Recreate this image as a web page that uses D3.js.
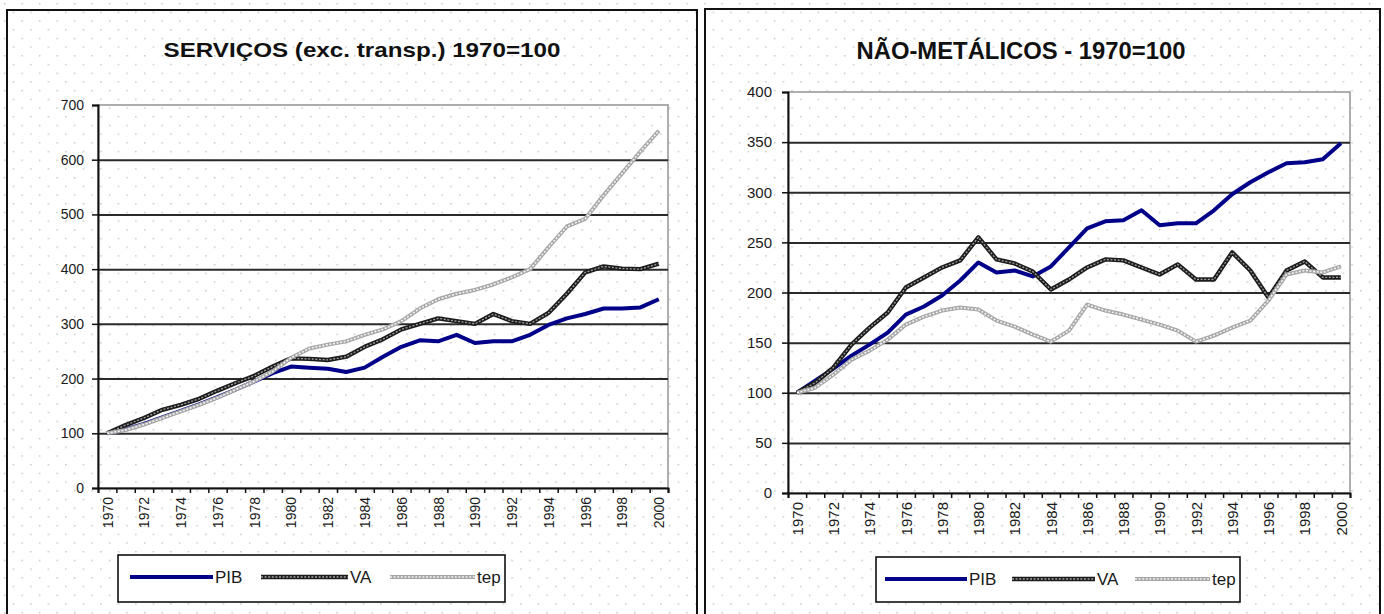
<!DOCTYPE html>
<html>
<head>
<meta charset="utf-8">
<script src="https://cdn.jsdelivr.net/npm/d3@7"></script>
<style>
  body { margin: 0; background: #fff; }
  svg { display: block; font-family: "Liberation Sans", Arial, sans-serif; }
</style>
</head>
<body>
<svg id="chart" width="1384" height="614"></svg>
<script>
// Categories: years of the series
const years = [1970, 1971, 1972, 1973, 1974, 1975, 1976, 1977, 1978, 1979,
               1980, 1981, 1982, 1983, 1984, 1985, 1986, 1987, 1988, 1989,
               1990, 1991, 1992, 1993, 1994, 1995, 1996, 1997, 1998, 1999, 2000];

// Serviços (exc. transportes), índice 1970=100
const servPIB = [100, 107, 117, 129, 141, 153, 166, 180, 195, 210,
                 222, 220, 218, 212, 220, 240, 258, 270, 268, 280,
                 265, 268, 268, 280, 298, 310, 318, 328, 328, 330, 345];
const servVA  = [100, 115, 128, 143, 152, 163, 178, 192, 205, 222,
                 237, 236, 234, 240, 258, 272, 290, 300, 310, 305,
                 300, 318, 305, 300, 320, 355, 394, 405, 401, 400, 410];
const servTep = [100, 106, 116, 128, 140, 152, 165, 180, 195, 213,
                 238, 255, 262, 268, 280, 290, 305, 328, 345, 355,
                 362, 372, 385, 400, 440, 478, 492, 535, 575, 615, 653];

// Não-metálicos, índice 1970=100
const nmPIB = [100, 112, 124, 137, 148, 160, 178, 186, 197, 212,
               230, 220, 222, 216, 226, 245, 264, 271, 272, 282,
               267, 269, 269, 282, 298, 310, 320, 329, 330, 333, 349];
const nmVA  = [100, 110, 125, 148, 165, 180, 205, 215, 225, 232,
               255, 233, 229, 221, 203, 213, 225, 233, 232, 225,
               218, 228, 213, 213, 240, 222, 195, 222, 231, 215, 215];
const nmTep = [100, 105, 118, 133, 142, 153, 168, 176, 182, 185,
               183, 172, 166, 158, 151, 162, 188, 182, 178, 173,
               168, 162, 151, 157, 165, 172, 192, 218, 222, 220, 226];

// Axis tick labels
const xTickYears = [1970, 1972, 1974, 1976, 1978, 1980, 1982, 1984,
                    1986, 1988, 1990, 1992, 1994, 1996, 1998, 2000];
const servYTicks = [0, 100, 200, 300, 400, 500, 600, 700];
const nmYTicks = [0, 50, 100, 150, 200, 250, 300, 350, 400];

const seriesNames = ["PIB", "VA", "tep"];

const svg = d3.select("#chart");

// Dotted background texture
const defs = svg.append("defs");
const pat = defs.append("pattern")
  .attr("id", "dots").attr("patternUnits", "userSpaceOnUse")
  .attr("width", 17.5).attr("height", 17.4);
pat.append("rect").attr("x", 4).attr("y", 3).attr("width", 1.3).attr("height", 1.3).attr("fill", "#b4b4b4");
pat.append("rect").attr("x", 12.75).attr("y", 11.7).attr("width", 1.3).attr("height", 1.3).attr("fill", "#b4b4b4");

svg.append("rect").attr("width", 1384).attr("height", 614).attr("fill", "#fff");
svg.append("rect").attr("width", 1384).attr("height", 614).attr("fill", "url(#dots)");

// Line styles per series
function drawSeries(g, line, values, name) {
  const data = years.map((yr, i) => ({ year: yr, v: values[i] }));
  if (name === "PIB") {
    g.append("path").datum(data).attr("d", line)
      .attr("fill", "none").attr("stroke", "#000088").attr("stroke-width", 4)
      .attr("stroke-linejoin", "round");
  } else if (name === "VA") {
    g.append("path").datum(data).attr("d", line)
      .attr("fill", "none").attr("stroke", "#1c1c1c").attr("stroke-width", 4.4)
      .attr("stroke-linejoin", "round");
    g.append("path").datum(data).attr("d", line)
      .attr("fill", "none").attr("stroke", "#a0a0a0").attr("stroke-width", 1.3)
      .attr("stroke-dasharray", "2,1.6");
  } else {
    g.append("path").datum(data).attr("d", line)
      .attr("fill", "none").attr("stroke", "#a6a6a6").attr("stroke-width", 4)
      .attr("stroke-linejoin", "round");
    g.append("path").datum(data).attr("d", line)
      .attr("fill", "none").attr("stroke", "#f4f4f4").attr("stroke-width", 1.6)
      .attr("stroke-dasharray", "2,1.6");
  }
}

function legendSample(g, name, x1, x2, y) {
  const pts = [[x1, y], [x2, y]];
  const ln = d3.line();
  if (name === "PIB") {
    g.append("path").attr("d", ln(pts)).attr("stroke", "#000088").attr("stroke-width", 4);
  } else if (name === "VA") {
    g.append("path").attr("d", ln(pts)).attr("stroke", "#1c1c1c").attr("stroke-width", 4.4);
    g.append("path").attr("d", ln(pts)).attr("stroke", "#a0a0a0").attr("stroke-width", 1.3).attr("stroke-dasharray", "2,1.6");
  } else {
    g.append("path").attr("d", ln(pts)).attr("stroke", "#a6a6a6").attr("stroke-width", 4);
    g.append("path").attr("d", ln(pts)).attr("stroke", "#f4f4f4").attr("stroke-width", 1.6).attr("stroke-dasharray", "2,1.6");
  }
}

function drawPanel(cfg) {
  const g = svg.append("g");
  const f = cfg.frame, p = cfg.plot;

  // outer chart frame
  g.append("rect").attr("x", f.x).attr("y", f.y).attr("width", f.w).attr("height", f.h)
    .attr("fill", "none").attr("stroke", "#111").attr("stroke-width", 2);

  // title
  g.append("text").attr("x", cfg.title.x).attr("y", cfg.title.y)
    .attr("text-anchor", "middle").attr("font-weight", "bold")
    .attr("font-size", cfg.title.size).attr("textLength", cfg.title.len)
    .attr("lengthAdjust", "spacingAndGlyphs").attr("fill", "#111")
    .text(cfg.title.text);

  const y = d3.scaleLinear().domain([0, cfg.yMax]).range([p.bottom, p.top]);
  const x = d3.scalePoint().domain(years).range([p.left, p.right]).padding(0.5);
  const xEdge = d3.scaleLinear().domain([years[0] - 0.5, years[years.length - 1] + 0.5]).range([p.left, p.right]);

  // plot area border (light)
  g.append("rect").attr("x", p.left).attr("y", p.top)
    .attr("width", p.right - p.left).attr("height", p.bottom - p.top)
    .attr("fill", "none").attr("stroke", "#9a9a9a").attr("stroke-width", 1.6);

  // horizontal gridlines
  const grid = g.append("g").attr("transform", `translate(${p.left},0)`)
    .call(d3.axisLeft(y).tickValues(cfg.yTicks.filter(v => v > 0 && v < cfg.yMax))
      .tickSize(-(p.right - p.left)).tickFormat(""));
  grid.select(".domain").remove();
  grid.selectAll(".tick line").attr("stroke", "#2a2a2a").attr("stroke-width", 2);

  // series
  const line = d3.line().x(d => x(d.year)).y(d => y(d.v));
  cfg.series.forEach((vals, i) => drawSeries(g, line, vals, seriesNames[i]));

  // y axis
  const ya = g.append("g").attr("transform", `translate(${p.left},0)`)
    .call(d3.axisLeft(y).tickValues(cfg.yTicks).tickSize(6).tickPadding(cfg.yPad));
  ya.select(".domain").attr("stroke", "#111").attr("stroke-width", 2);
  ya.selectAll(".tick line").attr("stroke", "#111").attr("stroke-width", 1.5);
  ya.selectAll(".tick text").attr("font-size", cfg.tickSize).attr("fill", "#1a1a1a")
    .attr("font-family", "'Liberation Sans', Arial, sans-serif");

  // x axis: category boundary ticks
  const edges = d3.range(years.length + 1).map(i => years[0] - 0.5 + i);
  const xa = g.append("g").attr("transform", `translate(0,${p.bottom})`)
    .call(d3.axisBottom(xEdge).tickValues(edges).tickSize(5).tickFormat(""));
  xa.select(".domain").attr("stroke", "#111").attr("stroke-width", 2);
  xa.selectAll(".tick line").attr("stroke", "#111").attr("stroke-width", 1.5);

  // x labels, rotated
  const xl = g.append("g").attr("transform", `translate(0,${p.bottom})`)
    .call(d3.axisBottom(x).tickValues(xTickYears).tickSize(0).tickFormat(d3.format("d")));
  xl.select(".domain").remove();
  xl.selectAll(".tick text")
    .attr("font-size", cfg.xTickSize).attr("fill", "#1a1a1a")
    .attr("font-family", "'Liberation Sans', Arial, sans-serif")
    .attr("text-anchor", "end").attr("dy", "0.35em")
    .attr("transform", `translate(0,${cfg.xLabelOffset}) rotate(-90)`)
    .attr("x", 0).attr("y", 0);

  // legend
  const L = cfg.legend;
  g.append("rect").attr("x", L.x).attr("y", L.y).attr("width", L.w).attr("height", L.h)
    .attr("fill", "#fff").attr("stroke", "#111").attr("stroke-width", 1.6);
  L.items.forEach((it, i) => {
    legendSample(g, seriesNames[i], it[0], it[1], L.cy);
    g.append("text").attr("x", it[1] + 2).attr("y", L.cy).attr("dy", "0.36em")
      .attr("font-size", L.size).attr("fill", "#1a1a1a").text(seriesNames[i]);
  });
}

drawPanel({
  frame: { x: 7, y: 10, w: 690, h: 640 },
  plot: { left: 98, right: 668, top: 105, bottom: 488 },
  title: { text: "SERVIÇOS (exc. transp.) 1970=100", x: 362, y: 57, size: 21, len: 397 },
  yMax: 700, yTicks: servYTicks, yPad: 8, tickSize: 14, xTickSize: 14, xLabelOffset: 9,
  series: [servPIB, servVA, servTep],
  legend: { x: 118, y: 555, w: 387, h: 47, cy: 577, size: 17,
            items: [[130, 213], [261, 348], [390, 475]] }
});

drawPanel({
  frame: { x: 705, y: 9, w: 675, h: 640 },
  plot: { left: 788, right: 1350, top: 92, bottom: 493 },
  title: { text: "NÃO-METÁLICOS - 1970=100", x: 1021, y: 59, size: 23, len: 329 },
  yMax: 400, yTicks: nmYTicks, yPad: 10, tickSize: 15, xTickSize: 15, xLabelOffset: 9,
  series: [nmPIB, nmVA, nmTep],
  legend: { x: 876, y: 557, w: 364, h: 45, cy: 579, size: 17,
            items: [[885, 967], [1012, 1095], [1135, 1210]] }
});
</script>
</body>
</html>
